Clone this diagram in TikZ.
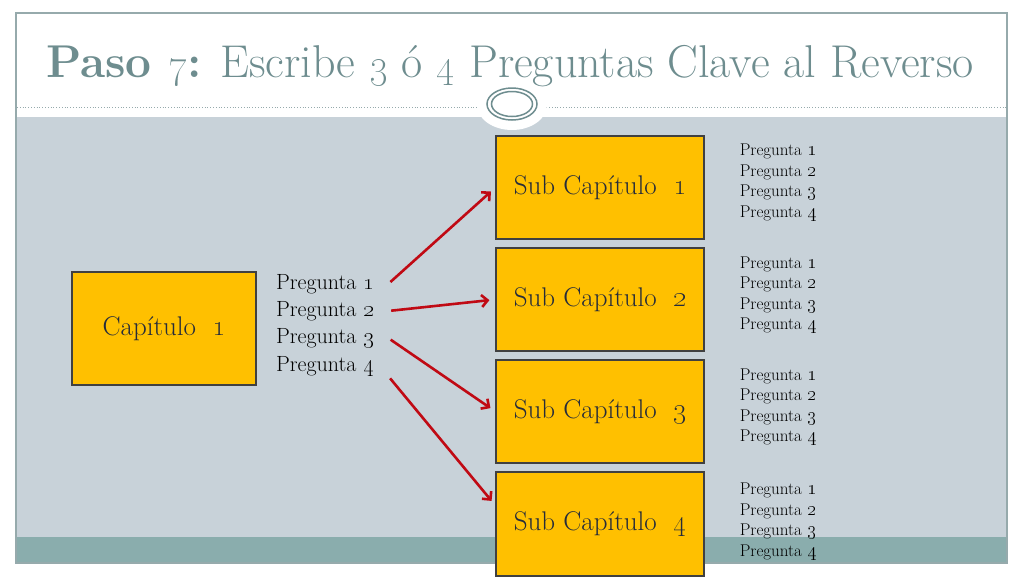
\documentclass[tikz,border=0pt]{standalone}
\usepackage{tikz}
\usepackage{graphicx}
\usetikzlibrary{shapes,arrows,arrows.meta,positioning,calc}
\definecolor{slidegrey}{RGB}{200,210,217}
\definecolor{bandteal}{RGB}{138,173,173}
\definecolor{titleteal}{RGB}{110,141,143}
\definecolor{framegrey}{RGB}{150,170,172}
\definecolor{boxgold}{RGB}{255,192,0}
\definecolor{boxtext}{RGB}{38,44,58}
\definecolor{arrowred}{RGB}{192,10,20}
\newcommand{\osn}[1]{\scalebox{1.15}{\oldstylenums{#1}}}
\tikzstyle{chapter} = [rectangle, draw=black!75, line width=1.2pt, fill=boxgold, text=boxtext, minimum width=184pt, minimum height=113pt, font=\fontsize{27}{32}\selectfont]
\tikzstyle{subchapter} = [chapter, minimum width=208pt, minimum height=103pt]
\tikzstyle{question} = [text width=112pt, inner sep=0pt, align=left, font=\fontsize{22}{27}\selectfont]
\tikzstyle{qlist} = [inner sep=0pt, align=left, font=\fontsize{17}{20.5}\selectfont]
\tikzstyle{line} = [draw=arrowred, line width=2.6pt, -{Straight Barb[length=6pt,width=12pt]}, shorten <=3pt, shorten >=6pt]

\begin{document}
\begin{tikzpicture}[x=1pt,y=-1pt]
	\useasboundingbox (0,0) rectangle (1024,576);
	%Slide background
	\fill [slidegrey] (16,117) rectangle (1007,537);
	\fill [bandteal] (16,537) rectangle (1007,563);
	\draw [framegrey, line width=1.2pt] (16,13) rectangle (1007,563);
	\draw [framegrey, dotted, line width=0.8pt] (17,107) -- (1006,107);
	\fill [white] (512,105) ellipse [x radius=35pt, y radius=25pt];
	\draw [titleteal, line width=1.5pt] (512,104) ellipse [x radius=25pt, y radius=16pt];
	\draw [titleteal, line width=1.5pt] (512,104) ellipse [x radius=20.5pt, y radius=12.5pt];
	\node [text=titleteal, font=\fontsize{46}{52}\selectfont] (title) at (510,66) {\textbf{Paso \osn{7}:} Escribe \osn{3} ó \osn{4} Preguntas Clave al Reverso};

	%Place nodes
	\node [chapter] (Cap) at (164,328.5) {Capítulo\hspace{0.6em}\osn{1}};
	\node [question] (q1) at (332,284) {Pregunta \osn{1}};
	\node [question, below of=q1, node distance=27pt] (q2) {Pregunta \osn{2}};
	\node [question, below of=q2, node distance=27pt] (q3) {Pregunta \osn{3}};
	\node [question, below of=q3, node distance=28pt] (q4) {Pregunta \osn{4}};
	\node [subchapter] (Sub1) at (600,187.5) {Sub Capítulo\hspace{0.6em}\osn{1}};
	\node [subchapter, below of=Sub1, node distance=112pt] (Sub2) {Sub Capítulo\hspace{0.6em}\osn{2}};
	\node [subchapter, below of=Sub2, node distance=112pt] (Sub3) {Sub Capítulo\hspace{0.6em}\osn{3}};
	\node [subchapter, below of=Sub3, node distance=112.5pt, minimum height=104pt] (Sub4) {Sub Capítulo\hspace{0.6em}\osn{4}};
	\node [qlist, right=35pt of Sub1.east, yshift=5pt] (List1) {Pregunta \osn{1}\\Pregunta \osn{2}\\Pregunta \osn{3}\\Pregunta \osn{4}};
	\node [qlist, right=35pt of Sub2.east, yshift=4.5pt] (List2) {Pregunta \osn{1}\\Pregunta \osn{2}\\Pregunta \osn{3}\\Pregunta \osn{4}};
	\node [qlist, right=35pt of Sub3.east, yshift=4.5pt] (List3) {Pregunta \osn{1}\\Pregunta \osn{2}\\Pregunta \osn{3}\\Pregunta \osn{4}};
	\node [qlist, right=35pt of Sub4.east, yshift=2.5pt] (List4) {Pregunta \osn{1}\\Pregunta \osn{2}\\Pregunta \osn{3}\\Pregunta \osn{4}};

	\path [line] (q1.east) -- (Sub1.west);
	\path [line] (q2.east) -- (Sub2.west);
	\path [line] (q3.east) -- (Sub3.west);
	\path [line] (q4.south east) -- (Sub4.170);
\end{tikzpicture}
\end{document}
